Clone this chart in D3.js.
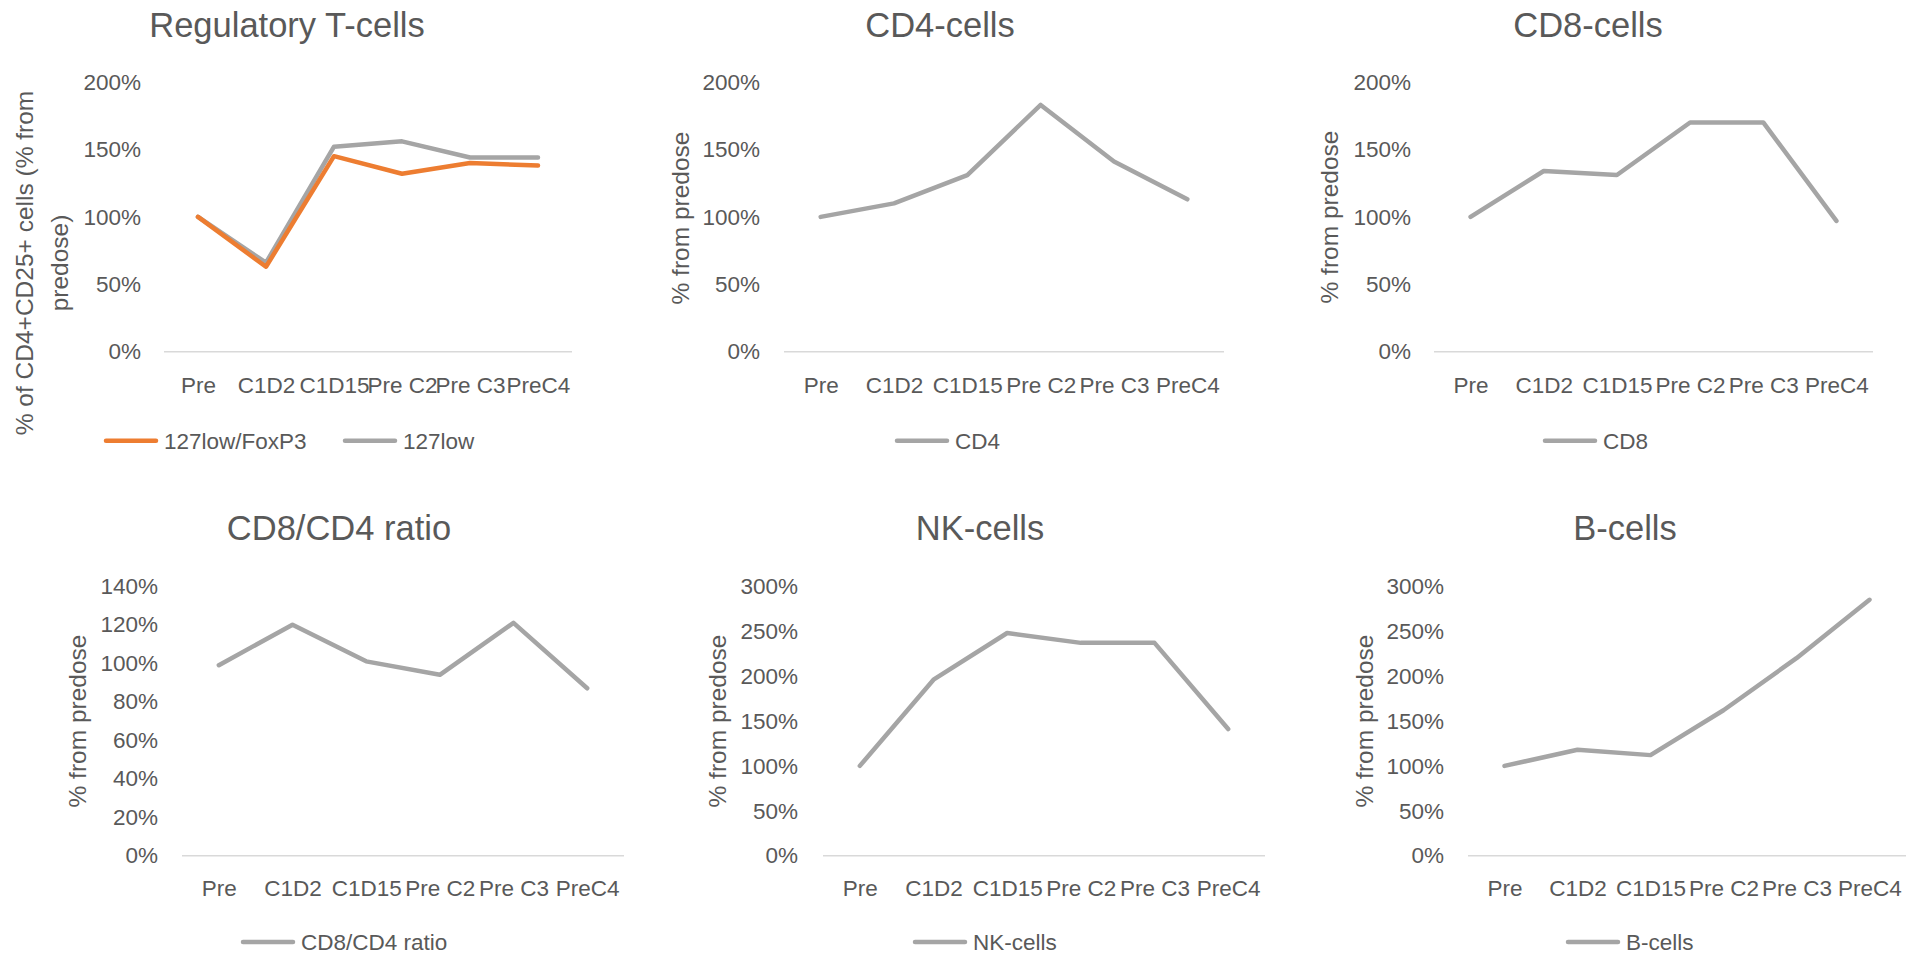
<!DOCTYPE html>
<html>
<head>
<meta charset="utf-8">
<script src="https://cdn.jsdelivr.net/npm/d3@7"></script>
<style>
  html, body { margin: 0; padding: 0; background: #ffffff; }
  svg text { font-family: "Liberation Sans", Arial, sans-serif; fill: #595959; }
</style>
</head>
<body>
<svg id="chart" width="1926" height="956"></svg>
<script>
// Sampling time points shared by all panels
const categories = ["Pre", "C1D2", "C1D15", "Pre C2", "Pre C3", "PreC4"];

// Values as % of the predose level
const treg127lowFoxP3 = [100, 63, 145, 132, 140, 138];
const treg127low      = [100, 66, 152, 156, 144, 144];
const cd4Cells        = [100, 110, 131, 183, 141, 113];
const cd8Cells        = [100, 134, 131, 170, 170, 97];
const cd8cd4Ratio     = [99, 120, 101, 94, 121, 87];
const nkCells         = [100, 196, 248, 237, 237, 141];
const bCells          = [100, 118, 112, 162, 220, 285];

// Y-axis tick values
const ticks200 = [0, 50, 100, 150, 200];
const ticks140 = [0, 20, 40, 60, 80, 100, 120, 140];
const ticks300 = [0, 50, 100, 150, 200, 250, 300];

const GRAY = "#A5A5A5";
const ORANGE = "#ED7D31";

// Panel layout
const rowTop = { y0: 351.7, yMax: 82, titleY: 37, catY: 385, legendY: 440.7 };
const rowBottom = { y0: 855.7, yMax: 586.3, titleY: 540, catY: 888, legendY: 942 };

const panels = [
  { title: "Regulatory T-cells", row: rowTop, x: [164, 572], tickRight: 141, ticks: ticks200,
    yTitle: ["% of CD4+CD25+ cells (% from", "predose)"], yTitleX: [24.5, 59], yTitleY: 263, titleX: 287,
    series: [
      { name: "127low/FoxP3", values: treg127lowFoxP3, color: ORANGE, legendX: 104 },
      { name: "127low", values: treg127low, color: GRAY, legendX: 343 }
    ], drawOrder: [1, 0] },
  { title: "CD4-cells", row: rowTop, x: [784, 1224], tickRight: 760, ticks: ticks200,
    yTitle: ["% from predose"], yTitleX: [680], yTitleY: 218, titleX: 940,
    series: [{ name: "CD4", values: cd4Cells, color: GRAY, legendX: 895 }] },
  { title: "CD8-cells", row: rowTop, x: [1434, 1873], tickRight: 1411, ticks: ticks200,
    yTitle: ["% from predose"], yTitleX: [1329], yTitleY: 217, titleX: 1588,
    series: [{ name: "CD8", values: cd8Cells, color: GRAY, legendX: 1543 }] },
  { title: "CD8/CD4 ratio", row: rowBottom, x: [182, 624], tickRight: 158, ticks: ticks140,
    yTitle: ["% from predose"], yTitleX: [77.5], yTitleY: 721, titleX: 339,
    series: [{ name: "CD8/CD4 ratio", values: cd8cd4Ratio, color: GRAY, legendX: 241 }] },
  { title: "NK-cells", row: rowBottom, x: [823, 1265], tickRight: 798, ticks: ticks300,
    yTitle: ["% from predose"], yTitleX: [717.5], yTitleY: 721, titleX: 980,
    series: [{ name: "NK-cells", values: nkCells, color: GRAY, legendX: 913 }] },
  { title: "B-cells", row: rowBottom, x: [1468, 1906], tickRight: 1444, ticks: ticks300,
    yTitle: ["% from predose"], yTitleX: [1364], yTitleY: 721, titleX: 1625,
    series: [{ name: "B-cells", values: bCells, color: GRAY, legendX: 1566 }] }
];

const svg = d3.select("#chart");
const LABEL_SIZE = 22.5;

panels.forEach(p => {
  const g = svg.append("g");
  const row = p.row;

  const x = d3.scalePoint().domain(categories).range(p.x).padding(0.5);
  const y = d3.scaleLinear()
    .domain([0, d3.max(p.ticks)])
    .range([row.y0, row.yMax]);

  // Title
  g.append("text")
    .attr("x", p.titleX).attr("y", row.titleY)
    .attr("text-anchor", "middle")
    .style("font-size", "34.5px")
    .text(p.title);

  // Value axis (labels only, no gridlines)
  const yAxis = d3.axisLeft(y)
    .tickValues(p.ticks)
    .tickFormat(d => d + "%")
    .tickSize(0)
    .tickPadding(0);
  const ya = g.append("g")
    .attr("transform", `translate(${p.tickRight},0)`)
    .call(yAxis);
  ya.select(".domain").remove();
  ya.selectAll("text")
    .style("font-size", LABEL_SIZE + "px")
    .style("font-family", '"Liberation Sans", Arial, sans-serif')
    .attr("fill", "#595959");

  // Category axis: baseline line plus labels
  const xAxis = d3.axisBottom(x).tickSize(0).tickPadding(0);
  const xa = g.append("g")
    .attr("transform", `translate(0,${row.y0})`)
    .call(xAxis);
  xa.select(".domain")
    .attr("d", `M${p.x[0]},0H${p.x[1]}`)
    .attr("stroke", "#D9D9D9")
    .attr("stroke-width", 1.5);
  xa.selectAll("text")
    .attr("y", row.catY - row.y0)
    .attr("dy", "0.35em")
    .style("font-size", LABEL_SIZE + "px")
    .style("font-family", '"Liberation Sans", Arial, sans-serif')
    .attr("fill", "#595959");

  // Rotated value-axis title
  p.yTitle.forEach((line, i) => {
    g.append("text")
      .attr("transform", `translate(${p.yTitleX[i]},${p.yTitleY}) rotate(-90)`)
      .attr("text-anchor", "middle")
      .attr("dy", "0.35em")
      .style("font-size", "24.5px")
      .text(line);
  });

  // Series lines
  const line = d3.line()
    .x((d, i) => x(categories[i]))
    .y(d => y(d));
  const order = p.drawOrder || p.series.map((s, i) => i);
  order.forEach(i => {
    const s = p.series[i];
    g.append("path")
      .datum(s.values)
      .attr("d", line)
      .attr("fill", "none")
      .attr("stroke", s.color)
      .attr("stroke-width", 4.5)
      .attr("stroke-linejoin", "round")
      .attr("stroke-linecap", "round");
  });

  // Legend
  p.series.forEach(s => {
    const lg = g.append("g").attr("transform", `translate(${s.legendX},${row.legendY})`);
    lg.append("line")
      .attr("x1", 2).attr("x2", 52)
      .attr("y1", 0).attr("y2", 0)
      .attr("stroke", s.color)
      .attr("stroke-width", 4.5)
      .attr("stroke-linecap", "round");
    lg.append("text")
      .attr("x", 60).attr("y", 0)
      .attr("dy", "0.35em")
      .style("font-size", "22.5px")
      .text(s.name);
  });
});
</script>
</body>
</html>
